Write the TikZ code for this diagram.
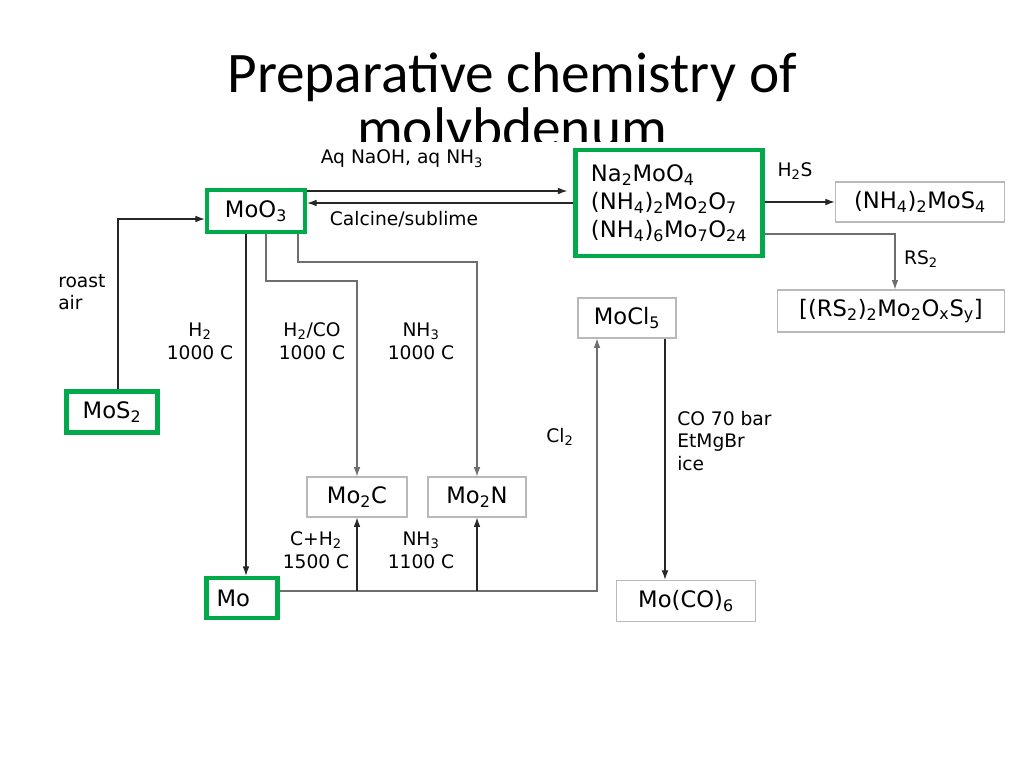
\documentclass[tikz,border=0pt]{standalone}
\usepackage{fontspec}
\setmainfont{DejaVu Sans}
\newfontfamily\titlefont{Carlito}
\usetikzlibrary{arrows.meta}
\definecolor{hlgreen}{RGB}{0,170,75}
\definecolor{boxgray}{RGB}{185,185,185}
\definecolor{linegray}{RGB}{110,110,110}
\newcommand{\ts}[1]{\textsubscript{#1}}
\tikzset{
  chem/.style={draw=boxgray, line width=0.9pt, inner sep=0pt, font=\fontsize{17}{19}\selectfont},
  hl/.style={draw=hlgreen, line width=3.4pt},
  cond/.style={inner sep=0pt, font=\fontsize{14}{17}\selectfont, align=left},
  link/.style={draw=linegray, line width=0.8pt},
  rx/.style={link, -{Latex[length=7pt,width=5pt]}, draw=black!85}
}
\begin{document}
\begin{tikzpicture}[x=0.75pt,y=-0.75pt]
  \useasboundingbox (0,0) rectangle (1024,768);
  % title
  \node (title) at (512,77) [font=\titlefont\fontsize{43}{48}\selectfont] {Preparative chemistry of};
  \node (title2) at (512,132) [font=\titlefont\fontsize{43}{48}\selectfont] {molybdenum};
  \fill [white] (40,142) rectangle (1015,650);

  % compounds
  \node (moo3) at (256,211) [chem, hl, minimum width=73.5pt, minimum height=31.5pt] {MoO\ts{3}};
  \node (moly) at (669,203) [chem, hl, minimum width=140pt, minimum height=79.5pt, align=left, font=\fontsize{17}{21}\selectfont]
    {Na\ts{2}MoO\ts{4}\\(NH\ts{4})\ts{2}Mo\ts{2}O\ts{7}\\(NH\ts{4})\ts{6}Mo\ts{7}O\ts{24}};
  \node (thio) at (920,202) [chem, minimum width=127pt, minimum height=30pt] {(NH\ts{4})\ts{2}MoS\ts{4}};
  \node (rs) at (891,311) [chem, minimum width=170pt, minimum height=31.5pt] {[(RS\ts{2})\ts{2}Mo\ts{2}O\ts{x}S\ts{y}]};
  \node (mocl) at (627,318) [chem, minimum width=73.5pt, minimum height=30pt] {MoCl\ts{5}};
  \node (mos2) at (112,412) [chem, hl, minimum width=68pt, minimum height=30.5pt] {MoS\ts{2}};
  \node (mo2c) at (357,497) [chem, minimum width=75pt, minimum height=30pt] {Mo\ts{2}C};
  \node (mo2n) at (477,497) [chem, minimum width=73.5pt, minimum height=30pt] {Mo\ts{2}N};
  \node (mo) at (242,598) [chem, hl, minimum width=53pt, minimum height=30pt, text width=38pt] {Mo};
  \node (moco) at (686,601) [chem, minimum width=104pt, minimum height=31pt] {Mo(CO)\ts{6}};

  % connectors
  \coordinate (roast) at (118,219);
  \draw [rx] (mos2.north -| roast) -- (roast) -- (moo3.west |- roast);
  \draw [rx] (moo3.east |- 0,191) -- ++(260,0);
  \draw [rx] (moly.west |- 0,203) -- (moo3.east |- 0,203);
  \draw [rx] (moly.east |- 0,202) -- (thio.west |- 0,202);
  \coordinate (rsb) at (895,234);
  \draw [rx, link] (moly.east |- rsb) -- (rsb) -- (rsb |- rs.north);
  \coordinate (h2) at (246,0);
  \draw [rx] (moo3.south -| h2) -- (mo.north -| h2);
  \coordinate (hco) at (266,281);
  \draw [rx, link] (moo3.south -| hco) -- (hco) -- (mo2c.north |- hco) -- (mo2c.north);
  \coordinate (nh) at (298,262);
  \draw [rx, link] (moo3.south -| nh) -- (nh) -- (mo2n.north |- nh) -- (mo2n.north);
  \coordinate (bot) at (597,591);
  \draw [rx, link] (mo.east |- bot) -- (bot) -- (bot |- mocl.south);
  \draw [rx] (mo2c.south |- bot) -- (mo2c.south);
  \draw [rx] (mo2n.south |- bot) -- (mo2n.south);
  \coordinate (co) at (665,0);
  \draw [rx] (mocl.south -| co) -- (moco.north -| co);

  % conditions
  \node (c1) at (58,292) [cond, anchor=west] {roast\\air};
  \node (c2) at (402,159) [cond] {Aq NaOH, aq NH\ts{3}};
  \node (c3) at (404,219) [cond] {Calcine/sublime};
  \node (c4) at (795,171) [cond] {H\ts{2}S};
  \node (c5) at (921,259) [cond] {RS\ts{2}};
  \node (c6) at (200,341) [cond, align=center] {H\ts{2}\\1000 C};
  \node (c7) at (312,341) [cond, align=center] {H\ts{2}/CO\\1000 C};
  \node (c8) at (421,341) [cond, align=center] {NH\ts{3}\\1000 C};
  \node (c9) at (560,437) [cond] {Cl\ts{2}};
  \node (c10) at (677,441) [cond, anchor=west] {CO 70 bar\\EtMgBr\\ice};
  \node (c11) at (316,550) [cond, align=center] {C+H\ts{2}\\1500 C};
  \node (c12) at (421,550) [cond, align=center] {NH\ts{3}\\1100 C};
\end{tikzpicture}
\end{document}
